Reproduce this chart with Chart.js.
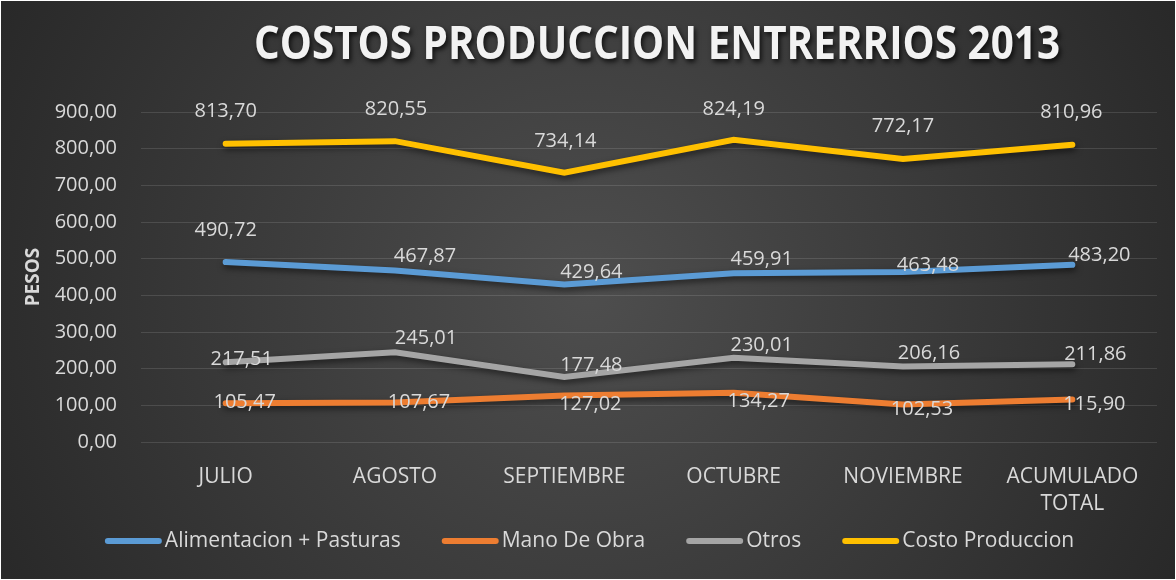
<!DOCTYPE html>
<html>
<head>
<meta charset="utf-8">
<script src="https://cdn.jsdelivr.net/npm/chart.js@4.4.0/dist/chart.umd.min.js"></script>
<style>
  html, body { margin: 0; padding: 0; background: #ffffff; }
  #wrap { position: absolute; left: 1px; top: 1px; width: 1174px; height: 578px; }
</style>
</head>
<body>
<div id="wrap"><canvas id="costosChart"></canvas></div>
<script>
// Chart data
const titleText = 'COSTOS PRODUCCION ENTRERRIOS 2013';
const months = ['JULIO', 'AGOSTO', 'SEPTIEMBRE', 'OCTUBRE', 'NOVIEMBRE', ['ACUMULADO', 'TOTAL']];
const alimentacion = [490.72, 467.87, 429.64, 459.91, 463.48, 483.20];
const manoDeObra = [105.47, 107.67, 127.02, 134.27, 102.53, 115.90];
const otros = [217.51, 245.01, 177.48, 230.01, 206.16, 211.86];
const costoProduccion = [813.70, 820.55, 734.14, 824.19, 772.17, 810.96];
const yMin = 0;
const yMax = 900;
const yStep = 100;

// label offsets from each point (dx, dy), same order as the datasets
const labelOffsets = [
    [[0, -32], [30, -14], [27, -12], [28, -14], [25, -7], [27, -10]],
    [[19, -1], [24, 0], [26, 9], [25, 9], [19, 5], [22, 5]],
    [[16, -3], [31, -14], [27, -12], [28, -12], [26, -13], [23, -10]],
    [[0, -32], [1, -32], [1, -32], [0, -31], [0, -33], [-1, -32]]
];

const textColor = '#d9d9d9';
const fontFamily = '"Open Sans", "Noto Sans", sans-serif';

function formatComma(v) {
    return Number(v).toFixed(2).replace('.', ',');
}

// Dark radial background
const backgroundPlugin = {
    id: 'background',
    beforeDraw(chart) {
        const { ctx, width, height } = chart;
        const cx = width / 2, cy = height / 2;
        const g = ctx.createRadialGradient(cx, cy, 0, cx, cy, 700);
        g.addColorStop(0, '#4e4e4e');
        g.addColorStop(1, '#262626');
        ctx.save();
        ctx.fillStyle = g;
        ctx.fillRect(0, 0, width, height);
        ctx.restore();
    }
};

// Title with drop shadow
const titlePlugin = {
    id: 'shadowTitle',
    afterDraw(chart) {
        const ctx = chart.ctx;
        ctx.save();
        ctx.font = 'bold 46px ' + fontFamily;
        ctx.textAlign = 'center';
        ctx.textBaseline = 'middle';
        ctx.fillStyle = '#f2f2f2';
        ctx.shadowColor = 'rgba(0,0,0,0.75)';
        ctx.shadowBlur = 5;
        ctx.shadowOffsetX = 2;
        ctx.shadowOffsetY = 3;
        ctx.fillText(titleText, 656, 45, 806);
        ctx.restore();
    }
};

// Legend with thick rounded line swatches
const legendPlugin = {
    id: 'lineLegend',
    afterDraw(chart) {
        const ctx = chart.ctx;
        const swatch = 51, textGap = 6, itemGap = 44, y = 540;
        ctx.save();
        ctx.font = '21px ' + fontFamily;
        const items = chart.data.datasets.map(ds => ({
            text: ds.label,
            color: ds.borderColor,
            w: ctx.measureText(ds.label).width
        }));
        const total = items.reduce((s, it) => s + swatch + textGap + it.w, 0) + itemGap * (items.length - 1);
        let x = 590 - total / 2;
        ctx.textBaseline = 'middle';
        ctx.textAlign = 'left';
        items.forEach(it => {
            ctx.strokeStyle = it.color;
            ctx.lineWidth = 6;
            ctx.lineCap = 'round';
            ctx.beginPath();
            ctx.moveTo(x, y);
            ctx.lineTo(x + swatch, y);
            ctx.stroke();
            ctx.fillStyle = textColor;
            ctx.fillText(it.text, x + swatch + textGap, y);
            x += swatch + textGap + it.w + itemGap;
        });
        ctx.restore();
    }
};

// Shadow under the lines, then the data labels
const lineShadowPlugin = {
    id: 'lineShadow',
    beforeDatasetsDraw(chart) {
        const ctx = chart.ctx;
        ctx.save();
        ctx.shadowColor = 'rgba(0,0,0,0.55)';
        ctx.shadowBlur = 6;
        ctx.shadowOffsetX = 1;
        ctx.shadowOffsetY = 3;
    },
    afterDatasetsDraw(chart) {
        const ctx = chart.ctx;
        ctx.restore();

        ctx.save();
        ctx.font = '20px ' + fontFamily;
        ctx.fillStyle = textColor;
        ctx.textAlign = 'center';
        ctx.textBaseline = 'middle';
        chart.data.datasets.forEach((ds, di) => {
            const meta = chart.getDatasetMeta(di);
            meta.data.forEach((pt, i) => {
                const off = labelOffsets[di][i];
                ctx.fillText(formatComma(ds.data[i]), pt.x + off[0], pt.y + off[1]);
            });
        });
        ctx.restore();
    }
};

const ctx = document.getElementById('costosChart').getContext('2d');
const costosChart = new Chart(ctx, {
    type: 'line',
    data: {
        labels: months,
        datasets: [
            { label: 'Alimentacion + Pasturas', data: alimentacion, borderColor: '#5b9bd5', backgroundColor: '#5b9bd5' },
            { label: 'Mano De Obra', data: manoDeObra, borderColor: '#ed7d31', backgroundColor: '#ed7d31' },
            { label: 'Otros', data: otros, borderColor: '#a5a5a5', backgroundColor: '#a5a5a5' },
            { label: 'Costo Produccion', data: costoProduccion, borderColor: '#ffc000', backgroundColor: '#ffc000' }
        ]
    },
    options: {
        responsive: true,
        maintainAspectRatio: false,
        animation: false,
        elements: {
            line: { borderWidth: 6, tension: 0, borderCapStyle: 'round', fill: false },
            point: { radius: 0, hoverRadius: 0 }
        },
        layout: {
            padding: { left: 18, right: 18, top: 111, bottom: 59 }
        },
        scales: {
            x: {
                offset: true,
                grid: { display: false, drawTicks: false },
                border: { display: false },
                ticks: {
                    color: textColor,
                    font: { family: fontFamily, size: 21, lineHeight: 1.3 },
                    padding: 21,
                    maxRotation: 0,
                    autoSkip: false
                },
                afterFit(scale) { scale.height = 78; }
            },
            y: {
                min: yMin,
                max: yMax,
                grid: { color: 'rgba(255,255,255,0.12)', lineWidth: 1, drawTicks: false },
                border: { display: false },
                ticks: {
                    stepSize: yStep,
                    color: textColor,
                    font: { family: fontFamily, size: 20 },
                    padding: 24,
                    callback: (v) => formatComma(v)
                },
                title: {
                    display: true,
                    text: 'PESOS',
                    color: textColor,
                    font: { family: fontFamily, size: 19, weight: 'bold' },
                    padding: { top: 3, bottom: 0 }
                },
                afterFit(scale) { scale.width = 122; }
            }
        },
        plugins: {
            title: { display: false },
            tooltip: { enabled: false },
            legend: { display: false }
        }
    },
    plugins: [backgroundPlugin, lineShadowPlugin, titlePlugin, legendPlugin]
});
</script>
</body>
</html>
